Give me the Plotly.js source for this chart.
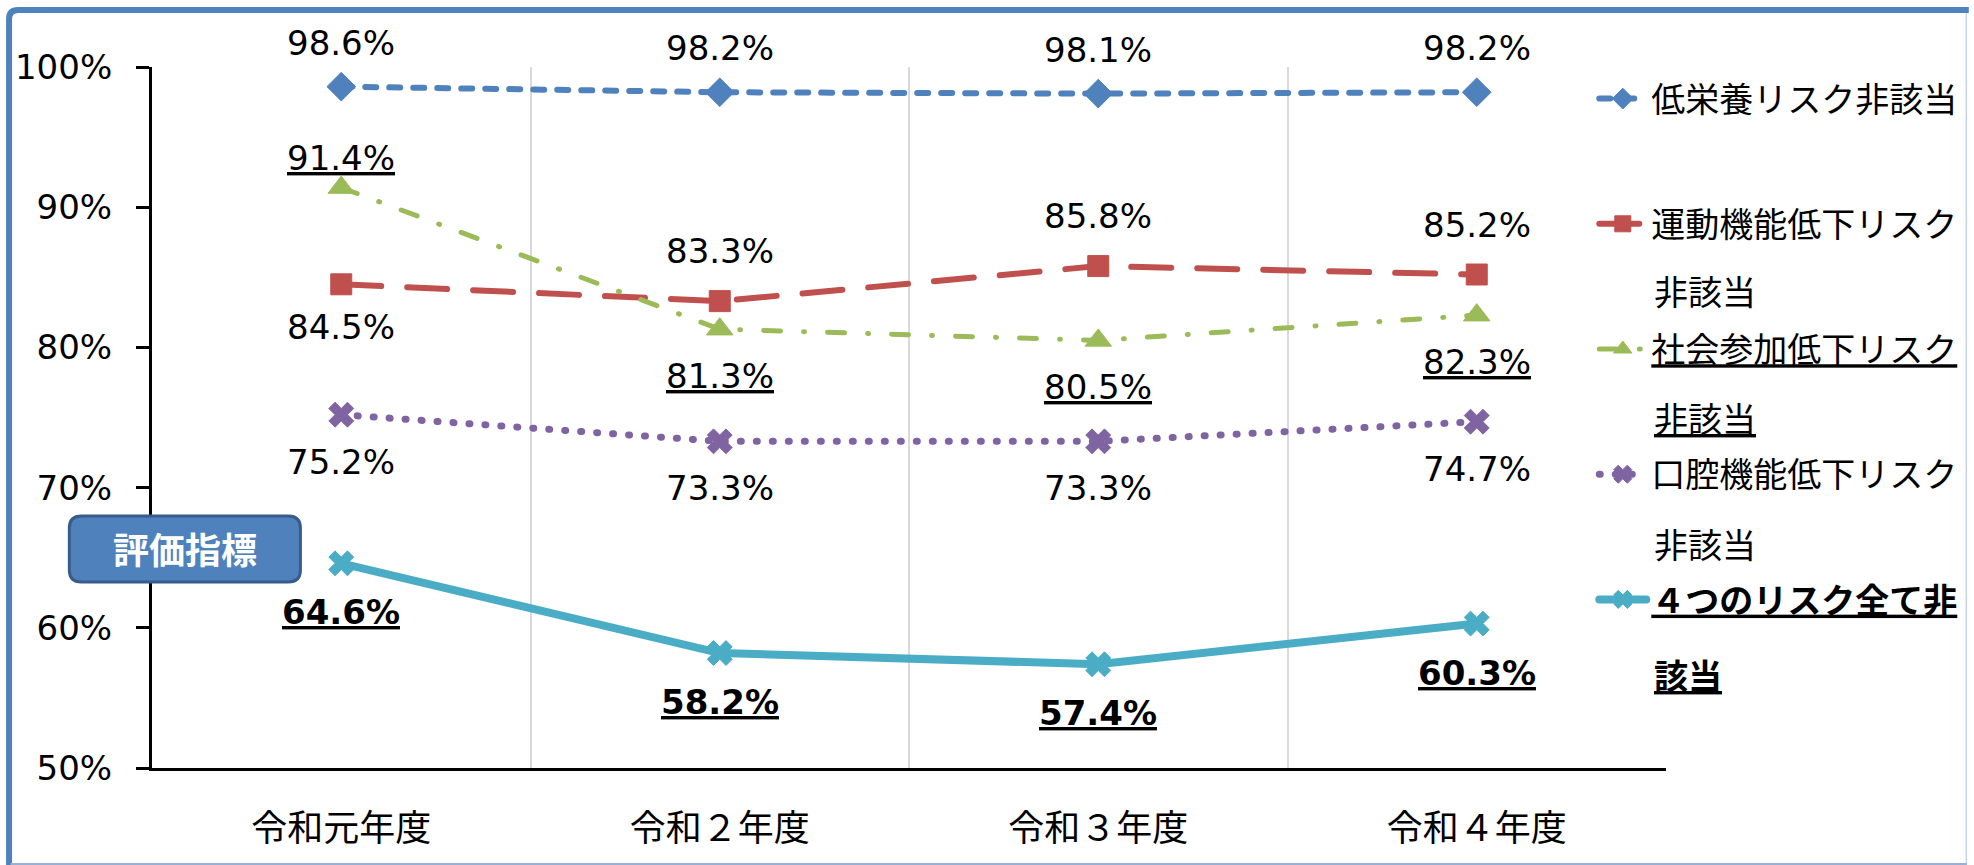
<!DOCTYPE html>
<html>
<head>
<meta charset="utf-8">
<script src="https://cdn.plot.ly/plotly-3.0.1.min.js"></script>
<style>
  html, body { margin: 0; padding: 0; background: #ffffff; }
  #chart { width: 1974px; height: 865px; }
  path.js-line { stroke-linecap: round !important; }
</style>
</head>
<body>
<div id="chart"></div>
<script>
// ---------------- data ----------------
const categories = ['令和元年度', '令和２年度', '令和３年度', '令和４年度'];
const lowNutrition = [98.6, 98.2, 98.1, 98.2];   // 低栄養リスク非該当
const motorDecline = [84.5, 83.3, 85.8, 85.2];   // 運動機能低下リスク非該当
const socialDecline = [91.4, 81.3, 80.5, 82.3];  // 社会参加低下リスク非該当
const oralDecline = [75.2, 73.3, 73.3, 74.7];    // 口腔機能低下リスク非該当
const allFourClear = [64.6, 58.2, 57.4, 60.3];   // ４つのリスク全て非該当
const seriesNames = ['低栄養リスク非該当', '運動機能低下リスク非該当', '社会参加低下リスク非該当', '口腔機能低下リスク非該当', '４つのリスク全て非該当'];
const legendLine1 = ['低栄養リスク非該当', '運動機能低下リスク', '社会参加低下リスク', '口腔機能低下リスク', '４つのリスク全て非'];
const legendLine2 = ['', '非該当', '非該当', '非該当', '該当'];
const yTickVals = [50, 60, 70, 80, 90, 100];
const yTickText = ['50%', '60%', '70%', '80%', '90%', '100%'];
const badgeText = '評価指標';

const seriesValues = [lowNutrition, motorDecline, socialDecline, oralDecline, allFourClear];

// ---------------- styles ----------------
const styles = [
  { color: '#4F81BD', width: 6, dash: '11px,13px', symbol: 'diamond', size: 22, side: ['a', 'a', 'a', 'a'], shift: [44, 44, 44, 44], bold: false, under: false },
  { color: '#C0504D', width: 6, dash: '40px,26px', symbol: 'square', size: 21, side: ['b', 'a', 'a', 'a'], shift: [43, 50, 50, 50], bold: false, under: false },
  { color: '#9BBB59', width: 5, dash: '17px,23px,1px,23px', symbol: 'triangle-up', size: 23, side: ['a', 'b', 'b', 'b'], shift: [30, 47, 47, 47], bold: false, under: true },
  { color: '#8064A2', width: 7, dash: '1px,15px', symbol: 'x', size: 22, side: ['b', 'b', 'b', 'b'], shift: [47, 47, 47, 47], bold: false, under: false },
  { color: '#4BACC6', width: 8, dash: 'solid', symbol: 'x', size: 22, side: ['b', 'b', 'b', 'b'], shift: [49, 49, 49, 49], bold: true, under: true }
];

const W = 1974, H = 865;
const M = { l: 152, r: 302, t: 67, b: 97 };
const PW = W - M.l - M.r, PH = H - M.t - M.b;
const px2x = p => (p - M.l) / PW;
const py2y = p => (M.t + PH - p) / PH;

const LABEL_FONT = 'DejaVu Sans, Verdana, sans-serif';
const JP_FONT = '"Noto Sans CJK JP", "Noto Sans", sans-serif';

// ---------------- traces ----------------
const traces = seriesValues.map((vals, i) => {
  const s = styles[i];
  let nm = legendLine1[i];
  if (s.under) nm = '<u>' + nm + '</u>';
  if (s.bold) nm = '<b>' + nm + '</b>';
  return {
    type: 'scatter',
    mode: 'lines+markers',
    x: categories,
    y: vals,
    name: nm,
    legendgroup: 'g' + i,
    line: { color: s.color, width: s.width, dash: s.dash },
    marker: { color: s.color, symbol: s.symbol, size: s.size, line: { color: s.color, width: 1 } },
    cliponaxis: false,
    hovertemplate: seriesNames[i] + ' %{x}: %{y:.1f}%<extra></extra>'
  };
});

// ---------------- annotations ----------------
const annotations = [];
seriesValues.forEach((vals, i) => {
  const s = styles[i];
  vals.forEach((v, j) => {
    let t = v.toFixed(1) + '%';
    if (s.under) t = '<u>' + t + '</u>';
    if (s.bold) t = '<b>' + t + '</b>';
    annotations.push({
      x: categories[j], y: v, xref: 'x', yref: 'y',
      text: t, showarrow: false,
      xanchor: 'center', yanchor: 'middle',
      yshift: s.side[j] === 'a' ? s.shift[j] : -s.shift[j],
      font: { family: LABEL_FONT, size: 34, color: '#000000' }
    });
  });
});

// legend second lines
const legendLine1Y = [97, 222, 350, 475, 606];
legendLine2.forEach((t, i) => {
  if (!t) return;
  const s = styles[i];
  let txt = t;
  if (s.under) txt = '<u>' + txt + '</u>';
  if (s.bold) txt = '<b>' + txt + '</b>';
  annotations.push({
    xref: 'paper', yref: 'paper',
    x: px2x(1658), y: py2y(legendLine1Y[i] + 68),
    xanchor: 'left', yanchor: 'middle',
    text: txt, showarrow: false,
    bgcolor: '#ffffff',
    font: { family: JP_FONT, size: 34, color: '#000000' }
  });
});

// badge text
annotations.push({
  xref: 'paper', yref: 'paper',
  x: px2x(185), y: py2y(548),
  xanchor: 'center', yanchor: 'middle',
  text: '<b>' + badgeText + '</b>', showarrow: false,
  font: { family: JP_FONT, size: 36, color: '#ffffff' }
});

// ---------------- shapes ----------------
function roundRectPath(x0, y0, x1, y1, r) {
  const X = px2x, Y = py2y;
  return 'M' + X(x0 + r) + ',' + Y(y0) +
    ' L' + X(x1 - r) + ',' + Y(y0) +
    ' Q' + X(x1) + ',' + Y(y0) + ' ' + X(x1) + ',' + Y(y0 + r) +
    ' L' + X(x1) + ',' + Y(y1 - r) +
    ' Q' + X(x1) + ',' + Y(y1) + ' ' + X(x1 - r) + ',' + Y(y1) +
    ' L' + X(x0 + r) + ',' + Y(y1) +
    ' Q' + X(x0) + ',' + Y(y1) + ' ' + X(x0) + ',' + Y(y1 - r) +
    ' L' + X(x0) + ',' + Y(y0 + r) +
    ' Q' + X(x0) + ',' + Y(y0) + ' ' + X(x0 + r) + ',' + Y(y0) + ' Z';
}
const shapes = [
  // badge
  { type: 'path', xref: 'paper', yref: 'paper', layer: 'above',
    path: roundRectPath(69, 516, 301, 582, 12),
    fillcolor: '#4F81BD', line: { color: '#385D8A', width: 3 } },
  // frame: top + left (thick)
  { type: 'path', xref: 'paper', yref: 'paper', layer: 'above',
    path: 'M' + px2x(8.5) + ',' + py2y(868) + ' L' + px2x(8.5) + ',' + py2y(19) +
          ' Q' + px2x(8.5) + ',' + py2y(10) + ' ' + px2x(17.5) + ',' + py2y(10) +
          ' L' + px2x(1976) + ',' + py2y(10),
    line: { color: '#4F81BD', width: 6 } },
  // frame: right + bottom (thin)
  { type: 'line', xref: 'paper', yref: 'paper', layer: 'above',
    x0: px2x(1973.5), x1: px2x(1973.5), y0: py2y(13), y1: py2y(865),
    line: { color: '#C6D5EA', width: 1.5 } },
  { type: 'line', xref: 'paper', yref: 'paper', layer: 'above',
    x0: px2x(10), x1: px2x(1974), y0: py2y(864), y1: py2y(864),
    line: { color: '#95B0D9', width: 2 } }
];

// ---------------- layout ----------------
const layout = {
  width: W, height: H,
  margin: M,
  paper_bgcolor: '#ffffff',
  plot_bgcolor: '#ffffff',
  showlegend: true,
  xaxis: {
    type: 'category',
    range: [-0.5, 3.5],
    tickson: 'boundaries',
    showgrid: true, gridcolor: '#D9D9D9', gridwidth: 2,
    showline: true, linecolor: '#000000', linewidth: 3,
    ticks: '',
    ticklabelstandoff: 27,
    tickfont: { family: JP_FONT, size: 36, color: '#000000' },
    zeroline: false, fixedrange: true
  },
  yaxis: {
    range: [50, 100],
    tickmode: 'array', tickvals: yTickVals, ticktext: yTickText,
    ticks: 'outside', ticklen: 13, tickwidth: 3, tickcolor: '#000000',
    showline: true, linecolor: '#000000', linewidth: 3,
    showgrid: false, zeroline: false,
    ticklabelstandoff: 17,
    tickfont: { family: LABEL_FONT, size: 34, color: '#000000' },
    fixedrange: true
  },
  legend: {
    x: px2x(1600), xanchor: 'left',
    y: py2y(70), yanchor: 'top',
    bgcolor: '#ffffff',
    borderwidth: 0,
    tracegroupgap: 78,
    itemwidth: 47,
    itemsizing: 'trace',
    font: { family: JP_FONT, size: 34, color: '#000000' }
  },
  annotations: annotations,
  shapes: shapes
};

Plotly.newPlot('chart', traces, layout, { displayModeBar: false, staticPlot: false });
</script>
</body>
</html>
